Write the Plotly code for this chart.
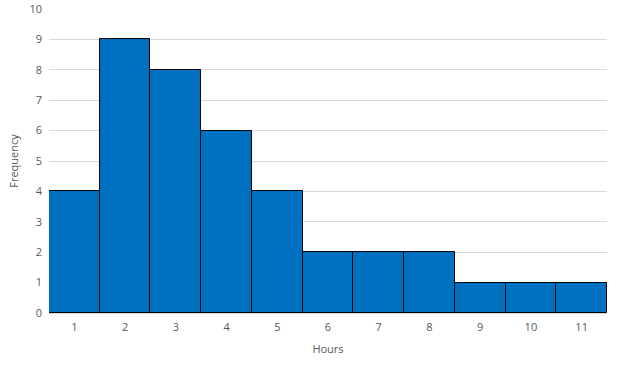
import plotly.graph_objects as go

hours = [str(i) for i in range(1, 12)]
frequency = [4, 9, 8, 6, 4, 2, 2, 2, 1, 1, 1]

fig = go.Figure(go.Bar(
    x=hours, y=frequency,
    marker=dict(color="#0070C0", line=dict(color="black", width=1)),
))
fig.update_layout(
    width=617, height=367,
    margin=dict(l=49, r=10, t=9, b=54, autoexpand=False),
    paper_bgcolor="white", plot_bgcolor="white",
    bargap=0,
    showlegend=False,
    font=dict(family="Open Sans", size=11, color="#595959"),
)
fig.update_xaxes(
    type="category", showgrid=False, showline=True, linecolor="#d9d9d9", linewidth=1,
    ticks="", tickfont=dict(size=11, color="#595959"), ticklabelstandoff=4,
    automargin=False,
    title=dict(text="Hours", font=dict(size=11, color="#595959"), standoff=12),
)
fig.update_yaxes(
    range=[0, 10], dtick=1, showgrid=True, gridcolor="#d9d9d9", gridwidth=1,
    zeroline=False, showline=False, ticks="", automargin=False,
    tickfont=dict(size=11, color="#595959"), ticklabelstandoff=6,
    title=dict(text="Frequency", font=dict(size=11, color="#595959"), standoff=8),
)
fig.write_html(
    "out.html",
    config={"displayModeBar": False},
    post_script="document.body.style.margin='0';document.body.style.overflow='hidden';",
)
